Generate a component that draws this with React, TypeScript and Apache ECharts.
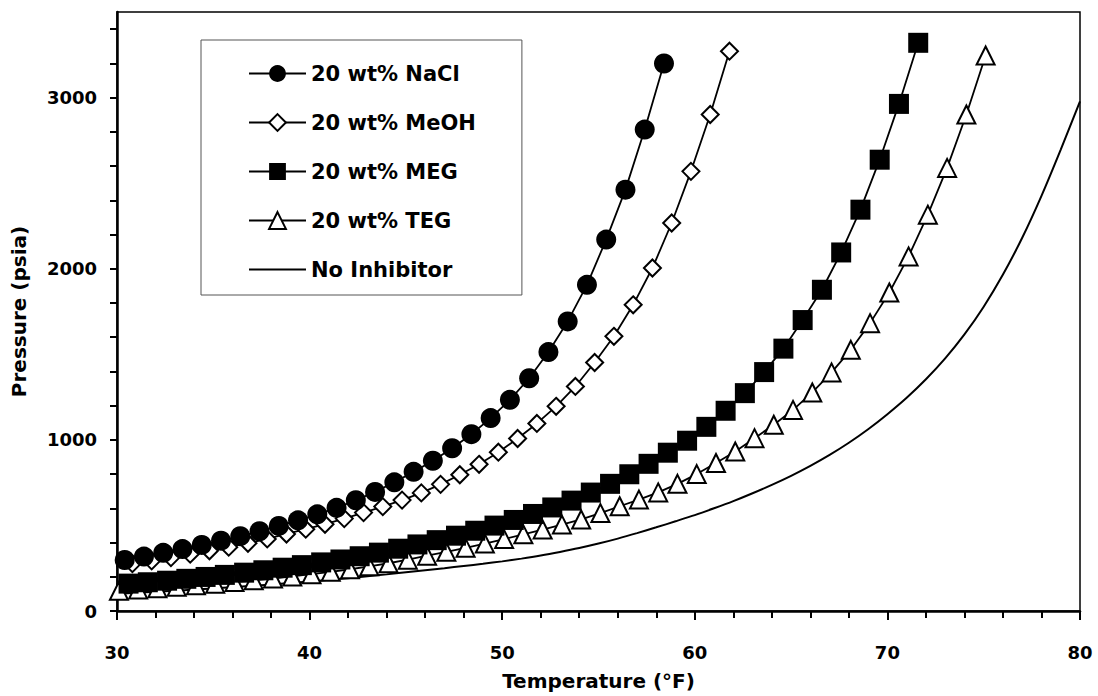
import React, { useEffect, useRef } from 'react';
import * as echarts from 'echarts';

// Temperature (°F) / Pressure (psia)
const naclT = [29.6, 30.4, 31.4, 32.4, 33.4, 34.4, 35.4, 36.4, 37.4, 38.4, 39.4, 40.4, 41.4, 42.4, 43.4, 44.4, 45.4, 46.4, 47.4, 48.4, 49.4, 50.4, 51.4, 52.4, 53.4, 54.4, 55.4, 56.4, 57.4, 58.4];
const naclP = [281, 298, 318, 340, 362, 386, 411, 437, 466, 497, 530, 565, 603, 647, 696, 752, 813, 878, 951, 1033, 1127, 1234, 1360, 1513, 1692, 1906, 2170, 2462, 2813, 3199];

const meohT = [29.6, 30.8, 31.8, 32.8, 33.8, 34.8, 35.8, 36.8, 37.8, 38.8, 39.8, 40.8, 41.8, 42.8, 43.8, 44.8, 45.8, 46.8, 47.8, 48.8, 49.8, 50.8, 51.8, 52.8, 53.8, 54.8, 55.8, 56.8, 57.8, 58.8, 59.8, 60.8, 61.8];
const meohP = [255, 277, 293, 312, 332, 352, 373, 396, 421, 450, 478, 507, 540, 575, 610, 648, 690, 740, 796, 857, 928, 1008, 1096, 1196, 1312, 1452, 1605, 1789, 2004, 2267, 2569, 2901, 3271];

const megT = [29.6, 30.6, 31.6, 32.6, 33.6, 34.6, 35.6, 36.6, 37.6, 38.6, 39.6, 40.6, 41.6, 42.6, 43.6, 44.6, 45.6, 46.6, 47.6, 48.6, 49.6, 50.6, 51.6, 52.6, 53.6, 54.6, 55.6, 56.6, 57.6, 58.6, 59.6, 60.6, 61.6, 62.6, 63.6, 64.6, 65.6, 66.6, 67.6, 68.6, 69.6, 70.6, 71.6];
const megP = [153, 160, 168, 177, 188, 199, 211, 224, 238, 253, 268, 284, 301, 320, 341, 364, 389, 414, 440, 469, 499, 532, 567, 605, 645, 692, 743, 799, 860, 925, 995, 1076, 1170, 1273, 1396, 1533, 1700, 1877, 2095, 2345, 2637, 2963, 3320];

const tegT = [29.6, 30.1, 31.1, 32.1, 33.1, 34.1, 35.1, 36.1, 37.1, 38.1, 39.1, 40.1, 41.1, 42.1, 43.1, 44.1, 45.1, 46.1, 47.1, 48.1, 49.1, 50.1, 51.1, 52.1, 53.1, 54.1, 55.1, 56.1, 57.1, 58.1, 59.1, 60.1, 61.1, 62.1, 63.1, 64.1, 65.1, 66.1, 67.1, 68.1, 69.1, 70.1, 71.1, 72.1, 73.1, 74.1, 75.1];
const tegP = [114, 118, 125, 133, 141, 150, 159, 169, 179, 190, 202, 215, 229, 244, 261, 279, 300, 323, 346, 369, 394, 420, 448, 476, 505, 535, 572, 612, 651, 693, 743, 800, 865, 932, 1010, 1088, 1175, 1277, 1394, 1526, 1682, 1861, 2072, 2316, 2589, 2901, 3246];

const noInhT = [30, 31, 32, 33, 34, 35, 36, 37, 38, 39, 40, 41, 42, 43, 44, 45, 46, 47, 48, 49, 50, 51, 52, 53, 54, 55, 56, 57, 58, 59, 60, 61, 62, 63, 64, 65, 66, 67, 68, 69, 70, 71, 72, 73, 74, 75, 76, 77, 78, 79, 80];
const noInhP = [100, 106, 112, 118, 125, 132, 139, 147, 155, 163, 172, 182, 192, 203, 214, 226, 238, 250, 263, 276, 290, 306, 324, 345, 368, 394, 423, 455, 489, 524, 560, 600, 642, 688, 737, 790, 848, 912, 983, 1062, 1150, 1246, 1354, 1476, 1616, 1778, 1966, 2181, 2426, 2696, 2978];

const seriesNames = ['20 wt% NaCl', '20 wt% MeOH', '20 wt% MEG', '20 wt% TEG', 'No Inhibitor'];
const yLabelValues = [0, 1000, 2000, 3000];
const yTickValues = [0, 200, 400, 600, 800, 1000, 1200, 1400, 1600, 1800, 2000, 2200, 2400, 2600, 2800, 3000, 3200, 3400];

const FONT = '"DejaVu Sans", sans-serif';

function toPoints(t: number[], p: number[], hideFirst: boolean) {
  return t.map((x, i) =>
    hideFirst && i === 0 ? { value: [x, p[i]], symbol: 'none' } : { value: [x, p[i]] }
  );
}

function markerSeries(name: string, t: number[], p: number[], symbol: string, size: number, filled: boolean, z: number) {
  return {
    type: 'line',
    name,
    data: toPoints(t, p, true),
    symbol,
    symbolSize: size,
    showAllSymbol: true,
    clip: false,
    z,
    lineStyle: { color: '#000', width: 1.8 },
    itemStyle: {
      color: filled ? '#000' : '#fff',
      borderColor: '#000',
      borderWidth: filled ? 0 : 2,
    },
    emphasis: { disabled: true },
  };
}

export default function App() {
  const ref = useRef<HTMLDivElement>(null);
  useEffect(() => {
    const chart = echarts.init(ref.current!, null, { renderer: 'svg' });
    chart.setOption({
      animation: false,
      backgroundColor: '#fff',
      grid: {
        left: 117,
        right: 18,
        top: 12,
        bottom: 85,
        show: true,
        borderColor: '#000',
        borderWidth: 1.5,
      },
      legend: {
        data: seriesNames,
        orient: 'vertical',
        left: 201,
        top: 40,
        itemWidth: 57,
        itemHeight: 21,
        itemGap: 28,
        padding: [23, 46, 15, 47],
        borderColor: '#555',
        borderWidth: 1,
        backgroundColor: '#fff',
        selectedMode: false,
        textStyle: { fontFamily: FONT, fontWeight: 'bold', fontSize: 21, color: '#000', lineHeight: 21 },
      },
      xAxis: {
        type: 'value',
        min: 30,
        max: 80,
        interval: 10,
        name: 'Temperature (°F)',
        nameLocation: 'middle',
        nameGap: 60,
        nameTextStyle: { fontFamily: FONT, fontWeight: 'bold', fontSize: 20, color: '#000' },
        axisLine: { show: true, lineStyle: { color: '#000', width: 2.5 } },
        axisTick: { show: true, length: 9, lineStyle: { color: '#000', width: 2 } },
        minorTick: { show: true, splitNumber: 5, length: 7, lineStyle: { color: '#000', width: 2 } },
        splitLine: { show: false },
        axisLabel: { margin: 32, fontFamily: FONT, fontWeight: 'bold', fontSize: 18, color: '#000' },
      },
      yAxis: {
        type: 'value',
        min: 0,
        max: 3500,
        name: 'Pressure (psia)',
        nameLocation: 'middle',
        nameGap: 88,
        nameTextStyle: { fontFamily: FONT, fontWeight: 'bold', fontSize: 20, color: '#000' },
        axisLine: { show: true, lineStyle: { color: '#000', width: 2.5 } },
        axisTick: { show: true, length: 7, customValues: yTickValues, lineStyle: { color: '#000', width: 2 } },
        splitLine: { show: false },
        axisLabel: {
          margin: 20,
          customValues: yLabelValues,
          formatter: (v: number) => String(v),
          fontFamily: FONT,
          fontWeight: 'bold',
          fontSize: 18,
          color: '#000',
        },
      },
      series: [
        markerSeries(seriesNames[0], naclT, naclP, 'circle', 20, true, 6),
        markerSeries(seriesNames[1], meohT, meohP, 'diamond', 17, false, 4),
        markerSeries(seriesNames[2], megT, megP, 'rect', 20, true, 5),
        markerSeries(seriesNames[3], tegT, tegP, 'triangle', 18, false, 3),
        {
          type: 'line',
          name: seriesNames[4],
          data: toPoints(noInhT, noInhP, false),
          symbol: 'none',
          smooth: 0.25,
          clip: false,
          z: 2,
          lineStyle: { color: '#000', width: 2 },
          itemStyle: { color: 'rgba(0,0,0,0)', borderWidth: 0 },
          emphasis: { disabled: true },
        },
      ],
    });
    return () => chart.dispose();
  }, []);
  return (
    <div
      ref={ref}
      style={{ position: 'fixed', left: 0, top: 0, width: 1098, height: 696, background: '#fff' }}
    />
  );
}
